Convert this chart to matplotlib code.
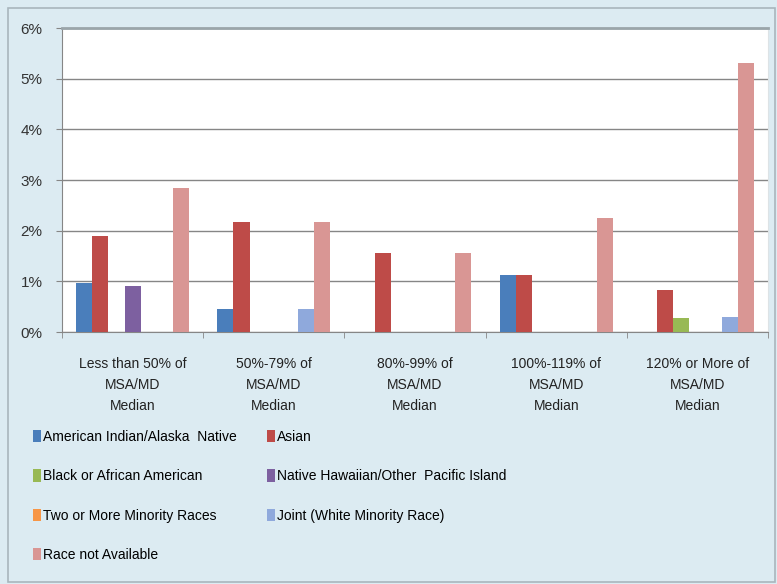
import matplotlib.pyplot as plt
import numpy as np
from matplotlib.patches import Rectangle
from matplotlib import font_manager

categories = ["Less than 50% of\nMSA/MD\nMedian", "50%-79% of\nMSA/MD\nMedian",
              "80%-99% of\nMSA/MD\nMedian", "100%-119% of\nMSA/MD\nMedian",
              "120% or More of\nMSA/MD\nMedian"]
series_names = ["American Indian/Alaska  Native", "Asian", "Black or African American",
                "Native Hawaiian/Other  Pacific Island", "Two or More Minority Races",
                "Joint (White Minority Race)", "Race not Available"]
aian = [0.97, 0.45, 0.0, 1.13, 0.0]
asian = [1.90, 2.18, 1.55, 1.13, 0.83]
black = [0.0, 0.0, 0.0, 0.0, 0.27]
nhopi = [0.90, 0.0, 0.0, 0.0, 0.0]
two_more = [0.0, 0.0, 0.0, 0.0, 0.0]
joint = [0.0, 0.45, 0.0, 0.0, 0.30]
not_avail = [2.85, 2.17, 1.55, 2.25, 5.30]
values = [aian, asian, black, nhopi, two_more, joint, not_avail]
colors = ["#4a7ebb", "#be4b48", "#98b954", "#7d60a0", "#f79646", "#8fa9dc", "#d99694"]

installed = {f.name for f in font_manager.fontManager.ttflist}
narrow = "Liberation Sans Narrow" if "Liberation Sans Narrow" in installed else "Liberation Sans"
plt.rcParams['font.family'] = [narrow, 'DejaVu Sans']
fs = 11 if narrow == "Liberation Sans Narrow" else 10

bg = "#dcebf2"
fig = plt.figure(figsize=(7.77, 5.84), dpi=100, facecolor=bg)
fig.patches.append(Rectangle((8 / 777, 2 / 584), 767 / 777, 574 / 584, transform=fig.transFigure,
                             facecolor="none", edgecolor="#a9b6bd", lw=1.2))

ax = fig.add_axes([62 / 777, 1 - 332 / 584, 706 / 777, 304 / 584])
ax.set_facecolor("white")

x = np.arange(len(categories))
width = 0.8 / 7
handles = []
for i, (name, vals, c) in enumerate(zip(series_names, values, colors)):
    h = ax.bar(x - 0.4 + width * (i + 0.5), vals, width, color=c, label=name, zorder=3)
    handles.append(h)

ax.set_xlim(-0.5, len(categories) - 0.5)
ax.set_ylim(0, 6)
ax.set_yticks(range(7))
ax.set_yticklabels([f"{v}%" for v in range(7)], fontsize=fs + 1, color="#333333")
ax.yaxis.grid(True, color="#868686", lw=1.0, zorder=0)
ax.set_xticks(x)
ax.set_xticklabels(categories, fontsize=fs, color="#222222", linespacing=1.65)
ax.set_xticks(np.arange(-0.5, len(categories)), minor=True)
ax.tick_params(axis="x", which="major", length=0, pad=18)
ax.tick_params(axis="x", which="minor", length=4, color="#868686")
ax.tick_params(axis="y", length=4, color="#868686", pad=10)
for s in ["left", "bottom"]:
    ax.spines[s].set_color("#868686")
ax.spines["top"].set_color("#9aa5aa")
ax.spines["top"].set_linewidth(2)
ax.spines["right"].set_color("#dde3e6")

order = [0, 2, 4, 6, 1, 3, 5]
fig.legend([handles[i] for i in order], [series_names[i] for i in order], ncol=2,
           loc="upper left", bbox_to_anchor=(33 / 777, 1 - 430 / 584), frameon=False,
           fontsize=fs, handlelength=0.6, handleheight=1.0, handletextpad=0.15,
           labelspacing=1.82, columnspacing=2.15, borderaxespad=0, borderpad=0)

fig.savefig("out.png", dpi=100, facecolor=bg)
